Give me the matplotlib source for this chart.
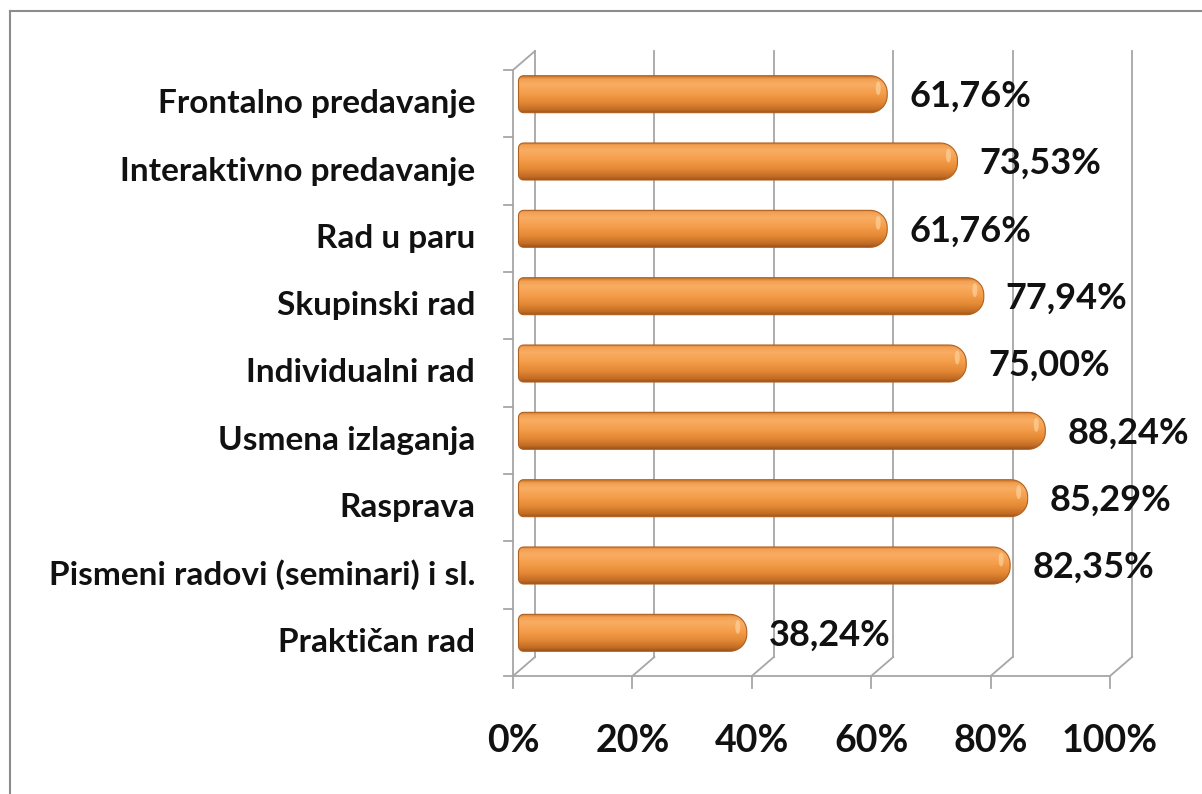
import numpy as np
import matplotlib
matplotlib.use("Agg")
import matplotlib.pyplot as plt
from matplotlib.patches import PathPatch, Ellipse
from matplotlib.path import Path
from matplotlib.lines import Line2D
from matplotlib.colors import LinearSegmentedColormap

plt.rcParams['font.family'] = ['Lato', 'DejaVu Sans']

# data (top to bottom as in the chart)
categories = ['Frontalno predavanje', 'Interaktivno predavanje', 'Rad u paru',
              'Skupinski rad', 'Individualni rad', 'Usmena izlaganja', 'Rasprava',
              'Pismeni radovi (seminari) i sl.', 'Praktičan rad']
values = [61.76, 73.53, 61.76, 77.94, 75.00, 88.24, 85.29, 82.35, 38.24]
value_labels = ['61,76%', '73,53%', '61,76%', '77,94%', '75,00%',
                '88,24%', '85,29%', '82,35%', '38,24%']
xticks = [0, 20, 40, 60, 80, 100]
xtick_labels = ['0%', '20%', '40%', '60%', '80%', '100%']

#=========================================================================================================
#Figure and axes (pixel layout of the original)
#=========================================================================================================
W, H = 1202, 794
fig = plt.figure(figsize=(W / 100, H / 100), dpi=100)
ax_left, ax_right, ax_top, ax_bottom = 513, 1110, 70, 676
ax = fig.add_axes([ax_left / W, (H - ax_bottom) / H,
                   (ax_right - ax_left) / W, (ax_bottom - ax_top) / H])
n = len(categories)
ax.set_xlim(0, 100)
ax.set_ylim(0, n)
ax.axis('off')

# pixels per data unit
px_x = (ax_right - ax_left) / 100.0
px_y = (ax_bottom - ax_top) / n
# 3D depth offset
dx = 22 / px_x
dy = 19 / px_y

grid = '#a6a6a6'
glw = 1.3

# back wall gridlines and floor diagonals
for t in xticks:
    ax.plot([t + dx, t + dx], [dy, n + dy], color=grid, lw=glw, clip_on=False, zorder=1)
    ax.plot([t, t + dx], [0, dy], color=grid, lw=glw, clip_on=False, zorder=1)
    ax.plot([t, t], [0, -12 / px_y], color=grid, lw=glw, clip_on=False, zorder=1)
# front floor line, left wall front edge
ax.plot([0, 100], [0, 0], color=grid, lw=glw, clip_on=False, zorder=1)
ax.plot([0, 0], [0, n], color=grid, lw=glw, clip_on=False, zorder=1)
ax.plot([0, dx], [n, n + dy], color=grid, lw=glw, clip_on=False, zorder=1)
for k in range(n + 1):
    ax.plot([-9 / px_x, 0], [k, k], color=grid, lw=glw, clip_on=False, zorder=1)

#=========================================================================================================
#Cylinder bars
#=========================================================================================================
bar_cmap = LinearSegmentedColormap.from_list('cyl', [
    (0.00, '#9c5118'), (0.08, '#c06a24'), (0.30, '#e58a36'),
    (0.55, '#f59e4c'), (0.78, '#f9ad63'), (0.92, '#f3a052'), (1.00, '#c9772d')])
grad = np.linspace(0, 1, 128).reshape(-1, 1)


def bar_path(x0, x1, y0, y1, r_left, r_right):
    # rounded-end bar outline, radii given in pixels
    pts = []
    rxr, ryr = r_right / px_x, r_right / px_y
    rxl, ryl = r_left / px_x, r_left / px_y
    a = np.linspace(-np.pi / 2, 0, 12)
    pts += list(zip(x1 - rxr + rxr * np.cos(a), y0 + ryr + ryr * np.sin(a)))
    a = np.linspace(0, np.pi / 2, 12)
    pts += list(zip(x1 - rxr + rxr * np.cos(a), y1 - ryr + ryr * np.sin(a)))
    a = np.linspace(np.pi / 2, np.pi, 6)
    pts += list(zip(x0 + rxl + rxl * np.cos(a), y1 - ryl + ryl * np.sin(a)))
    a = np.linspace(np.pi, 1.5 * np.pi, 6)
    pts += list(zip(x0 + rxl + rxl * np.cos(a), y0 + ryl + ryl * np.sin(a)))
    pts.append(pts[0])
    return Path(pts, closed=True)


bar_h = 37 / px_y
for i, (cat, v, lab) in enumerate(zip(categories, values, value_labels)):
    yc = n - i - 0.5 + dy / 2
    x0 = dx / 4
    x1 = x0 + v
    y0, y1 = yc - bar_h / 2, yc + bar_h / 2
    path = bar_path(x0, x1, y0, y1, 5, 17)
    patch = PathPatch(path, facecolor='none', edgecolor='#b0601e', lw=0.8,
                      zorder=4, clip_on=False)
    ax.add_patch(patch)
    im = ax.imshow(grad, cmap=bar_cmap, extent=[x0, x1, y0, y1], origin='lower',
                   aspect='auto', zorder=3, interpolation='bilinear')
    im.set_clip_path(patch)
    # highlight on the rounded end
    ax.add_patch(Ellipse((x1 - 9 / px_x, yc + 6 / px_y), 5 / px_x, 14 / px_y,
                         facecolor='#ffd9a6', edgecolor='none', alpha=0.6, zorder=4))
    # value label
    ax.text(x1 + 22 / px_x, yc - 2 / px_y, lab, ha='left', va='center',
            fontsize=26, fontweight='bold', color='#111111', zorder=5)
    # category label
    ax.text(-38 / px_x, n - i - 0.5, cat, ha='right', va='center',
            fontsize=24, fontweight='bold', color='#111111')

ax.set_xlim(0, 100)
ax.set_ylim(0, n)

for t, lab in zip(xticks, xtick_labels):
    ax.text(t, -65 / px_y, lab, ha='center', va='center',
            fontsize=27, fontweight='bold', color='#111111')

# chart border (top and left visible)
border = '#8c8c8c'
fig.add_artist(Line2D([10 / W, 1], [1 - 11 / H, 1 - 11 / H], color=border, lw=1.5,
                      transform=fig.transFigure))
fig.add_artist(Line2D([10 / W, 10 / W], [0, 1 - 11 / H], color=border, lw=1.5,
                      transform=fig.transFigure))

plt.savefig('out.png', dpi=100)
